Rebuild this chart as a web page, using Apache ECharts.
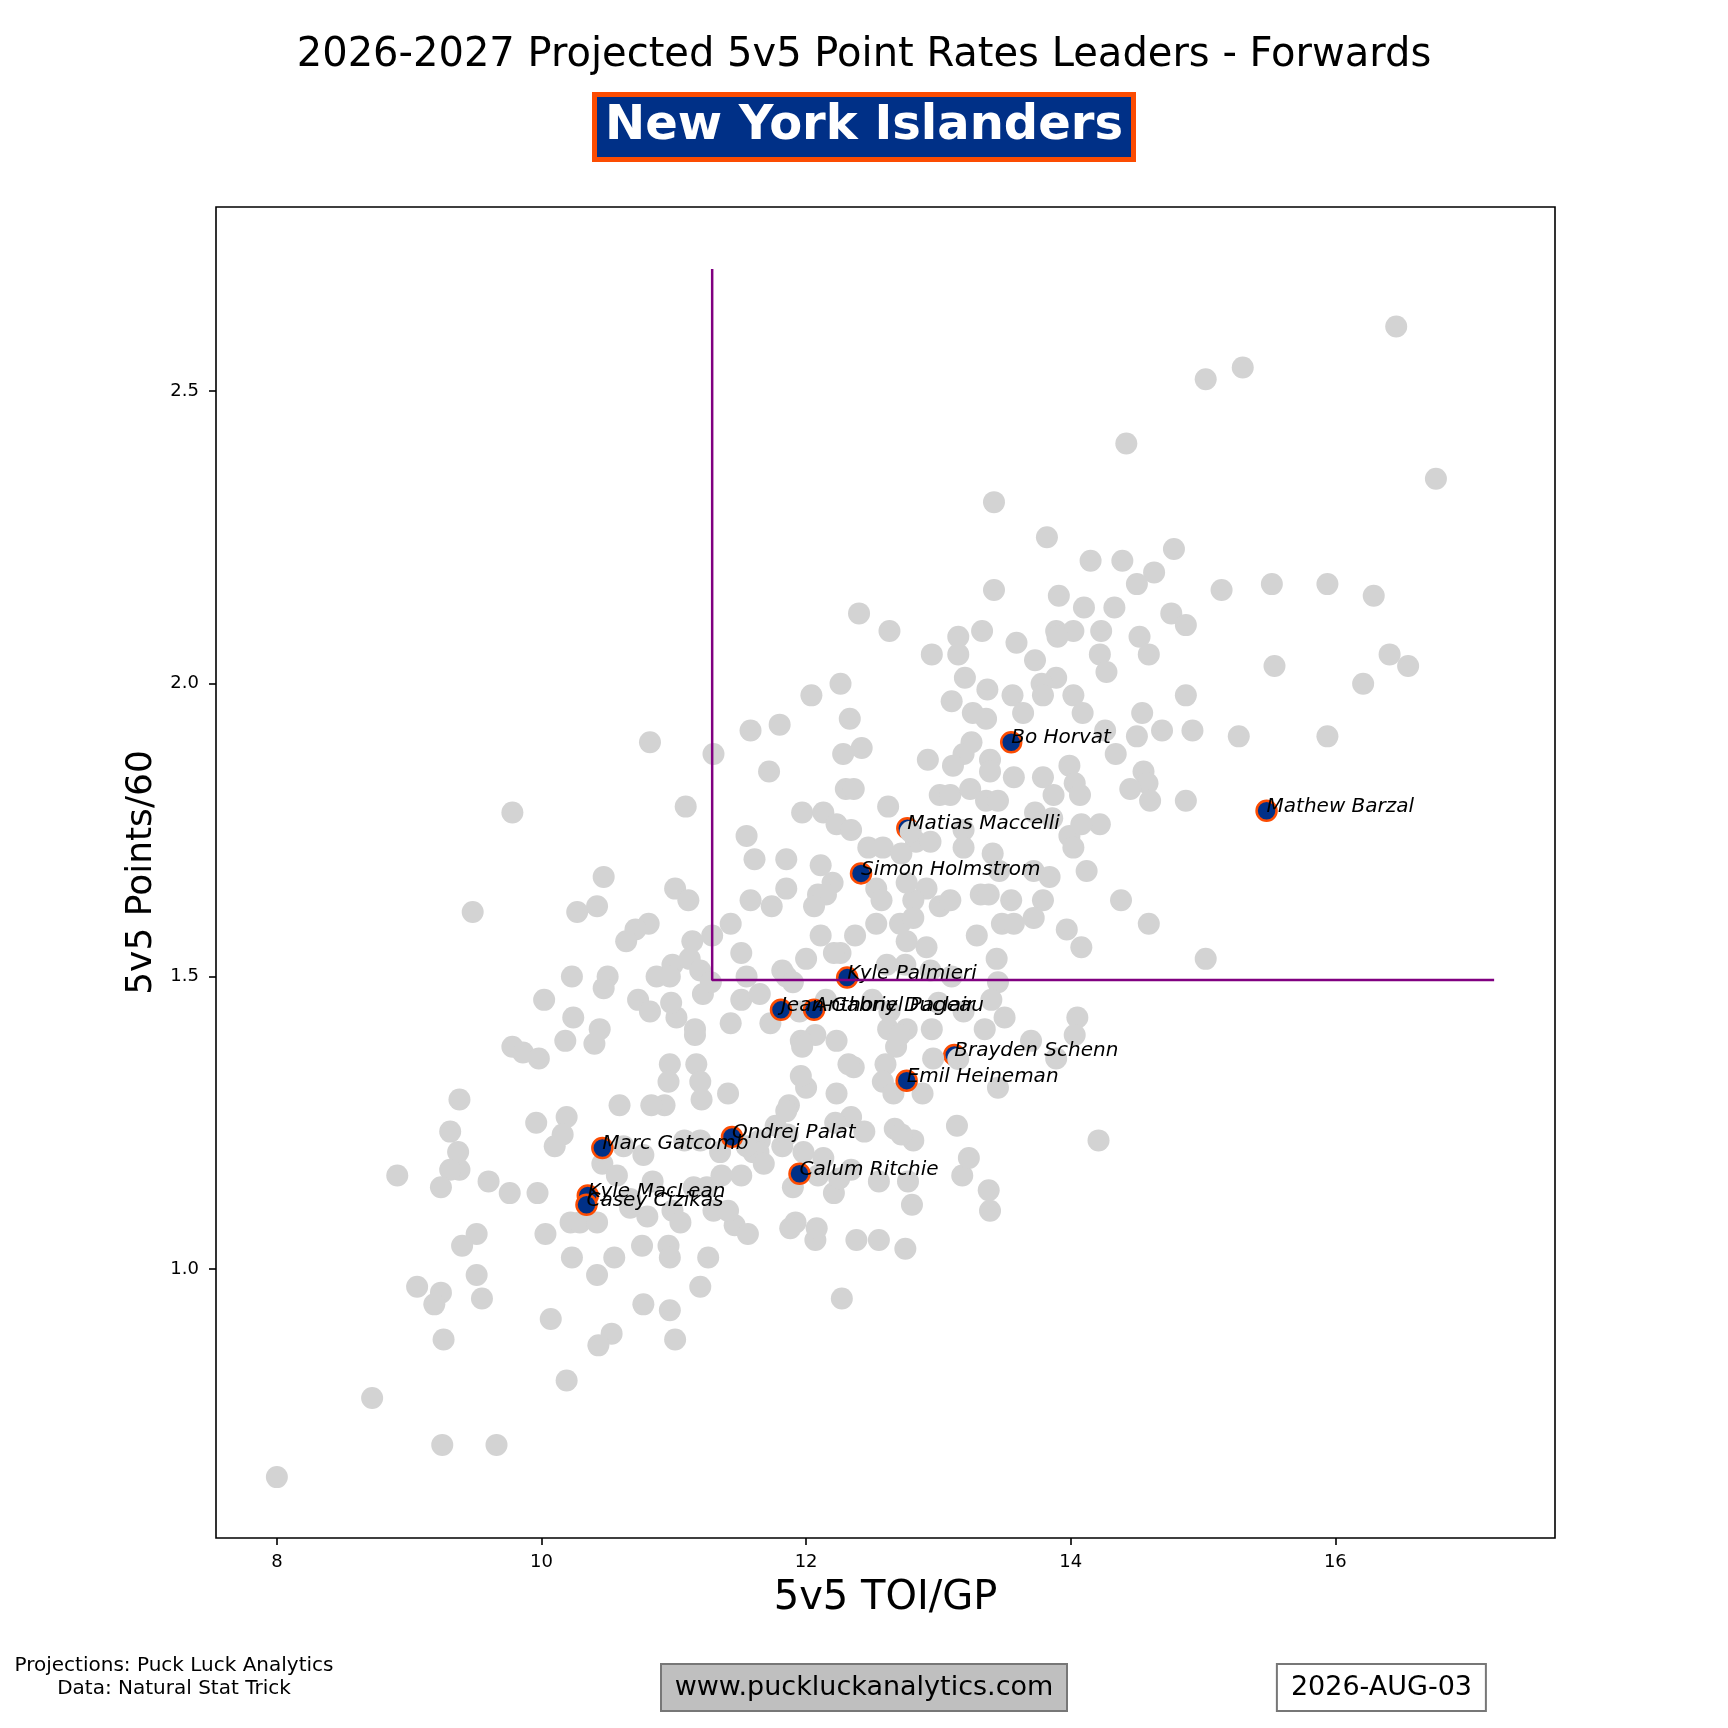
<!DOCTYPE html>
<html>
<head>
<meta charset="utf-8">
<script src="https://cdn.jsdelivr.net/npm/echarts@6/dist/echarts.min.js"></script>
<style>
  html, body { margin: 0; padding: 0; background: #fff; }
  #chart { width: 1728px; height: 1728px; }
</style>
</head>
<body>
<div id="chart"></div>
<script>
// every other forward in the league: [5v5 TOI/GP, 5v5 Points/60]
const otherPlayers = [
  [16.46, 2.61], [15.30, 2.54], [15.02, 2.52], [14.42, 2.41], [16.76, 2.35], [13.42, 2.31],
  [13.82, 2.25], [14.78, 2.23], [14.39, 2.21], [14.15, 2.21], [14.63, 2.19], [14.50, 2.17],
  [15.14, 2.16], [15.52, 2.17], [15.94, 2.17], [16.29, 2.15], [13.42, 2.16], [13.91, 2.15],
  [14.10, 2.13], [14.33, 2.13], [14.76, 2.12], [12.40, 2.12], [14.87, 2.10], [12.63, 2.09],
  [13.33, 2.09], [13.89, 2.09], [14.02, 2.09], [14.23, 2.09], [13.15, 2.08], [13.90, 2.08],
  [14.52, 2.08], [13.59, 2.07], [12.95, 2.05], [13.15, 2.05], [14.22, 2.05], [14.59, 2.05],
  [16.41, 2.05], [16.55, 2.03], [15.54, 2.03], [13.73, 2.04], [14.27, 2.02], [13.89, 2.01],
  [13.20, 2.01], [16.21, 2.00], [12.26, 2.00],
  [13.78, 2.00], [13.79, 1.98], [14.02, 1.98], [13.37, 1.99], [13.56, 1.98], [12.04, 1.98],
  [14.87, 1.98], [13.10, 1.97], [13.64, 1.95], [13.26, 1.95], [13.36, 1.94], [14.09, 1.95],
  [14.54, 1.95], [12.33, 1.94], [11.80, 1.93], [11.58, 1.92], [14.92, 1.92], [14.69, 1.92],
  [14.50, 1.91], [15.94, 1.91], [15.27, 1.91], [10.82, 1.90], [13.25, 1.90], [14.26, 1.92],
  [14.34, 1.88], [11.30, 1.88], [12.28, 1.88], [12.42, 1.89], [13.19, 1.88], [13.39, 1.87],
  [12.92, 1.87], [13.11, 1.86], [11.72, 1.85], [13.39, 1.85], [13.57, 1.84], [13.79, 1.84],
  [13.99, 1.86], [14.55, 1.85], [14.58, 1.83], [14.45, 1.82], [14.03, 1.83], [13.87, 1.81],
  [14.07, 1.81], [14.60, 1.80], [14.87, 1.80], [13.01, 1.81], [13.09, 1.81], [13.24, 1.82],
  [13.36, 1.80], [13.45, 1.80], [12.30, 1.82], [12.36, 1.82], [11.09, 1.79], [9.78, 1.78],
  [11.97, 1.78], [12.62, 1.79], [12.13, 1.78],
  [13.73, 1.78], [13.86, 1.77], [14.22, 1.76], [13.99, 1.74], [14.08, 1.76], [12.23, 1.76],
  [12.34, 1.75], [11.55, 1.74], [12.83, 1.73], [12.94, 1.73], [13.19, 1.75], [13.19, 1.72],
  [12.47, 1.72], [12.58, 1.72], [13.41, 1.71], [14.02, 1.72], [11.61, 1.70], [11.85, 1.70],
  [12.79, 1.747], [12.72, 1.71], [13.46, 1.68], [13.72, 1.68], [13.84, 1.67], [14.12, 1.68],
  [12.11, 1.69],
  [10.47, 1.67], [11.01, 1.65], [11.11, 1.63], [12.53, 1.65], [12.57, 1.63], [12.91, 1.65],
  [12.81, 1.63], [12.76, 1.66], [12.20, 1.66], [12.09, 1.64], [12.15, 1.64], [11.85, 1.65],
  [11.58, 1.63], [11.74, 1.62], [12.06, 1.62], [13.01, 1.62], [13.09, 1.63], [13.32, 1.64],
  [13.38, 1.64], [13.55, 1.63], [13.79, 1.63], [13.72, 1.60], [14.38, 1.63], [10.42, 1.62],
  [9.48, 1.61], [10.27, 1.61], [11.43, 1.59], [12.71, 1.59], [12.81, 1.60], [12.53, 1.59],
  [13.97, 1.58], [14.59, 1.59],
  [10.81, 1.59], [10.71, 1.58], [10.64, 1.56], [11.14, 1.56], [11.29, 1.57], [12.11, 1.57],
  [12.37, 1.57], [12.26, 1.54], [12.76, 1.56], [12.91, 1.55], [13.29, 1.57], [13.48, 1.59],
  [13.57, 1.59], [14.08, 1.55], [15.02, 1.53], [11.51, 1.54], [13.44, 1.53], [10.99, 1.52],
  [11.12, 1.53], [11.20, 1.51], [10.87, 1.50], [10.97, 1.50], [10.23, 1.50], [10.50, 1.50],
  [10.47, 1.48], [11.55, 1.50], [11.82, 1.51], [11.85, 1.50], [12.61, 1.52], [12.75, 1.52],
  [12.94, 1.51], [13.10, 1.50], [13.45, 1.49], [11.90, 1.49], [12.00, 1.53], [12.21, 1.54],
  [10.02, 1.46], [10.24, 1.43], [10.44, 1.41], [10.40, 1.385], [10.18, 1.39], [10.73, 1.46],
  [10.82, 1.44], [11.02, 1.43], [11.22, 1.47], [11.16, 1.41], [11.16, 1.40], [11.43, 1.42],
  [11.73, 1.42], [11.95, 1.44], [12.07, 1.40], [11.51, 1.46], [11.65, 1.47], [12.62, 1.41],
  [12.76, 1.41], [12.95, 1.41], [13.35, 1.41], [13.50, 1.43], [14.05, 1.43], [14.03, 1.40],
  [13.70, 1.39], [13.89, 1.36], [12.68, 1.38], [12.71, 1.40], [12.50, 1.46], [13.00, 1.455],
  [13.19, 1.44], [12.15, 1.46], [13.40, 1.46], [12.63, 1.44], [10.98, 1.455], [11.28, 1.49],
  [9.78, 1.38], [9.86, 1.37], [9.98, 1.36], [11.96, 1.39], [11.97, 1.38], [12.23, 1.39],
  [12.36, 1.345], [12.32, 1.35], [12.60, 1.35], [12.58, 1.32], [12.66, 1.30], [13.15, 1.359],
  [13.45, 1.31], [12.00, 1.31], [11.87, 1.28], [11.85, 1.27], [11.41, 1.30], [10.97, 1.35],
  [10.96, 1.32], [11.17, 1.35], [11.20, 1.32], [10.93, 1.28], [11.21, 1.29], [10.59, 1.28],
  [9.38, 1.29], [12.23, 1.30], [12.88, 1.30], [11.96, 1.33], [12.96, 1.36], [10.83, 1.28],
  [12.67, 1.24], [12.81, 1.22], [12.72, 1.23], [12.44, 1.235], [12.34, 1.26], [13.14, 1.245],
  [9.31, 1.235], [9.96, 1.25], [10.19, 1.26], [10.16, 1.23], [10.10, 1.21], [9.37, 1.20],
  [11.60, 1.20], [11.35, 1.20], [11.82, 1.21], [10.62, 1.21], [10.77, 1.195], [10.46, 1.18],
  [14.21, 1.22], [11.20, 1.22], [11.08, 1.22], [11.98, 1.20], [11.65, 1.22], [11.64, 1.20],
  [11.68, 1.18], [11.86, 1.23], [11.77, 1.245], [12.13, 1.19], [12.22, 1.25], [11.55, 1.21],
  [9.38, 1.17], [9.31, 1.17], [8.91, 1.16], [9.24, 1.14], [9.60, 1.15], [9.76, 1.13],
  [9.97, 1.13], [10.57, 1.16], [10.67, 1.12], [10.80, 1.09], [10.99, 1.10], [11.30, 1.10],
  [10.67, 1.105], [10.22, 1.08], [10.29, 1.08], [10.42, 1.08], [11.05, 1.08], [11.15, 1.14],
  [11.25, 1.14], [11.51, 1.16], [12.21, 1.13], [12.09, 1.16], [12.34, 1.17], [12.55, 1.15],
  [12.77, 1.15], [13.18, 1.16], [13.23, 1.19], [13.38, 1.135], [13.39, 1.10], [12.80, 1.11],
  [11.92, 1.08], [11.88, 1.07], [11.46, 1.075], [11.56, 1.06], [11.36, 1.16], [11.41, 1.10],
  [10.84, 1.15], [12.25, 1.155], [11.90, 1.14],
  [12.07, 1.05], [12.08, 1.07], [12.38, 1.05], [12.55, 1.05], [12.75, 1.035], [12.27, 0.95],
  [11.26, 1.02], [11.20, 0.97], [10.03, 1.06], [9.51, 1.06], [9.40, 1.04], [9.51, 0.99],
  [10.23, 1.02], [10.42, 0.99], [10.55, 1.02], [10.76, 1.04], [10.96, 1.04], [10.97, 1.02],
  [9.06, 0.97], [9.24, 0.96], [9.19, 0.94], [9.55, 0.95], [10.07, 0.915], [10.77, 0.94],
  [10.97, 0.93], [11.01, 0.88], [10.53, 0.89], [10.43, 0.87], [9.26, 0.88], [10.19, 0.81],
  [8.72, 0.78], [9.25, 0.70], [9.66, 0.70], [8.00, 0.645]
];

// New York Islanders forwards
const teamNames = [
  'Bo Horvat', 'Mathew Barzal', 'Matias Maccelli', 'Simon Holmstrom', 'Kyle Palmieri',
  'Jean-Gabriel Pageau', 'Anthony Duclair', 'Brayden Schenn', 'Emil Heineman', 'Ondrej Palat',
  'Marc Gatcomb', 'Calum Ritchie', 'Kyle MacLean', 'Casey Cizikas'
];
const teamToi = [13.55, 15.48, 12.765, 12.415, 12.31, 11.81, 12.06, 13.12, 12.76, 11.44, 10.46, 11.95, 10.35, 10.34];
const teamRate = [1.900, 1.783, 1.753, 1.676, 1.498, 1.443, 1.443, 1.366, 1.322, 1.226, 1.207, 1.163, 1.126, 1.110];
// these two sit under a grey dot in the original
const coveredByOthers = ['Matias Maccelli', 'Brayden Schenn'];

// purple reference lines
const cutLine = [[11.29, 2.708], [11.29, 1.494], [17.2, 1.494]];

const xTicks = [8, 10, 12, 14, 16];
const yTicks = [1.0, 1.5, 2.0, 2.5];

const FONT = 'DejaVu Sans';
const NAVY = '#003087';
const ORANGE = '#fc4c02';

var teamRows = teamNames.map(function (name, i) {
    return [teamToi[i], teamRate[i], name];
});
var behindRows = teamRows.filter(function (r) { return coveredByOthers.indexOf(r[2]) >= 0; });
var frontRows = teamRows.filter(function (r) { return coveredByOthers.indexOf(r[2]) < 0; });

var teamStyle = { color: NAVY, borderColor: ORANGE, borderWidth: 2.5, opacity: 1 };

var chart = echarts.init(document.getElementById('chart'), null, { renderer: 'canvas' });

var option = {
    animation: false,
    backgroundColor: '#ffffff',
    title: [
        {
            text: '2026-2027 Projected 5v5 Point Rates Leaders - Forwards',
            left: 'center',
            top: 28,
            textStyle: { fontFamily: FONT, fontSize: 40, fontWeight: 'normal', color: '#000', lineHeight: 46 }
        },
        {
            text: 'New York Islanders',
            left: 'center',
            top: 94,
            padding: [8, 11],
            backgroundColor: NAVY,
            borderColor: ORANGE,
            borderWidth: 5,
            textStyle: { fontFamily: FONT, fontSize: 48, fontWeight: 'bold', color: '#fff', lineHeight: 50 }
        },
        {
            text: 'www.puckluckanalytics.com',
            left: 'center',
            top: 1664,
            padding: [10, 14],
            backgroundColor: '#bfbfbf',
            borderColor: '#777',
            borderWidth: 2,
            textStyle: { fontFamily: FONT, fontSize: 27, fontWeight: 'normal', color: '#000', lineHeight: 27 }
        },
        {
            text: '2026-AUG-03',
            right: 242,
            top: 1664,
            padding: [10, 14],
            backgroundColor: '#ffffff',
            borderColor: '#777',
            borderWidth: 2,
            textStyle: { fontFamily: FONT, fontSize: 27, fontWeight: 'normal', color: '#000', lineHeight: 27 }
        }
    ],
    graphic: [
        {
            type: 'text',
            x: 174,
            y: 1654,
            style: {
                text: 'Projections: Puck Luck Analytics\nData: Natural Stat Trick',
                font: '20px "DejaVu Sans"',
                fill: '#000',
                textAlign: 'center',
                textVerticalAlign: 'top',
                lineHeight: 23
            }
        }
    ],
    grid: {
        left: 216,
        top: 207,
        width: 1339,
        height: 1331,
        show: true,
        borderColor: '#000',
        borderWidth: 1.6,
        containLabel: false
    },
    xAxis: {
        type: 'value',
        min: 7.54,
        max: 17.66,
        name: '5v5 TOI/GP',
        nameLocation: 'middle',
        nameGap: 41,
        nameTextStyle: { fontFamily: FONT, fontSize: 40, color: '#000' },
        axisLine: { show: false },
        splitLine: { show: false },
        axisTick: { show: true, length: 7, customValues: xTicks, lineStyle: { color: '#000', width: 1.6 } },
        axisLabel: { customValues: xTicks, margin: 15, fontFamily: FONT, fontSize: 18, color: '#000' }
    },
    yAxis: {
        type: 'value',
        min: 0.541,
        max: 2.814,
        name: '5v5 Points/60',
        nameLocation: 'middle',
        nameGap: 56,
        nameTextStyle: { fontFamily: FONT, fontSize: 36, color: '#000' },
        axisLine: { show: false },
        splitLine: { show: false },
        axisTick: { show: true, length: 7, customValues: yTicks, lineStyle: { color: '#000', width: 1.6 } },
        axisLabel: {
            customValues: yTicks, margin: 17, fontFamily: FONT, fontSize: 18, color: '#000',
            formatter: function (v) { return v.toFixed(1); }
        }
    },
    series: [
        {
            name: 'behind',
            type: 'scatter',
            symbolSize: 20,
            itemStyle: teamStyle,
            data: behindRows
        },
        {
            name: 'league',
            type: 'scatter',
            symbolSize: 22,
            itemStyle: { color: '#d3d3d3', opacity: 1 },
            data: otherPlayers
        },
        {
            name: 'team',
            type: 'scatter',
            symbolSize: 20,
            itemStyle: teamStyle,
            data: frontRows
        },
        {
            name: 'cut',
            type: 'line',
            symbol: 'none',
            lineStyle: { color: '#800080', width: 2.5 },
            data: cutLine
        },
        {
            name: 'names',
            type: 'scatter',
            symbolSize: 1,
            itemStyle: { color: 'rgba(0,0,0,0)', opacity: 1 },
            label: {
                show: true,
                position: [0.5, 0.5],
                align: 'left',
                verticalAlign: 'bottom',
                offset: [0, 6],
                fontFamily: FONT,
                fontStyle: 'italic',
                fontSize: 20,
                lineHeight: 20,
                color: '#000',
                formatter: function (p) { return p.data[2]; }
            },
            data: teamRows
        }
    ]
};

chart.setOption(option);
</script>
</body>
</html>
